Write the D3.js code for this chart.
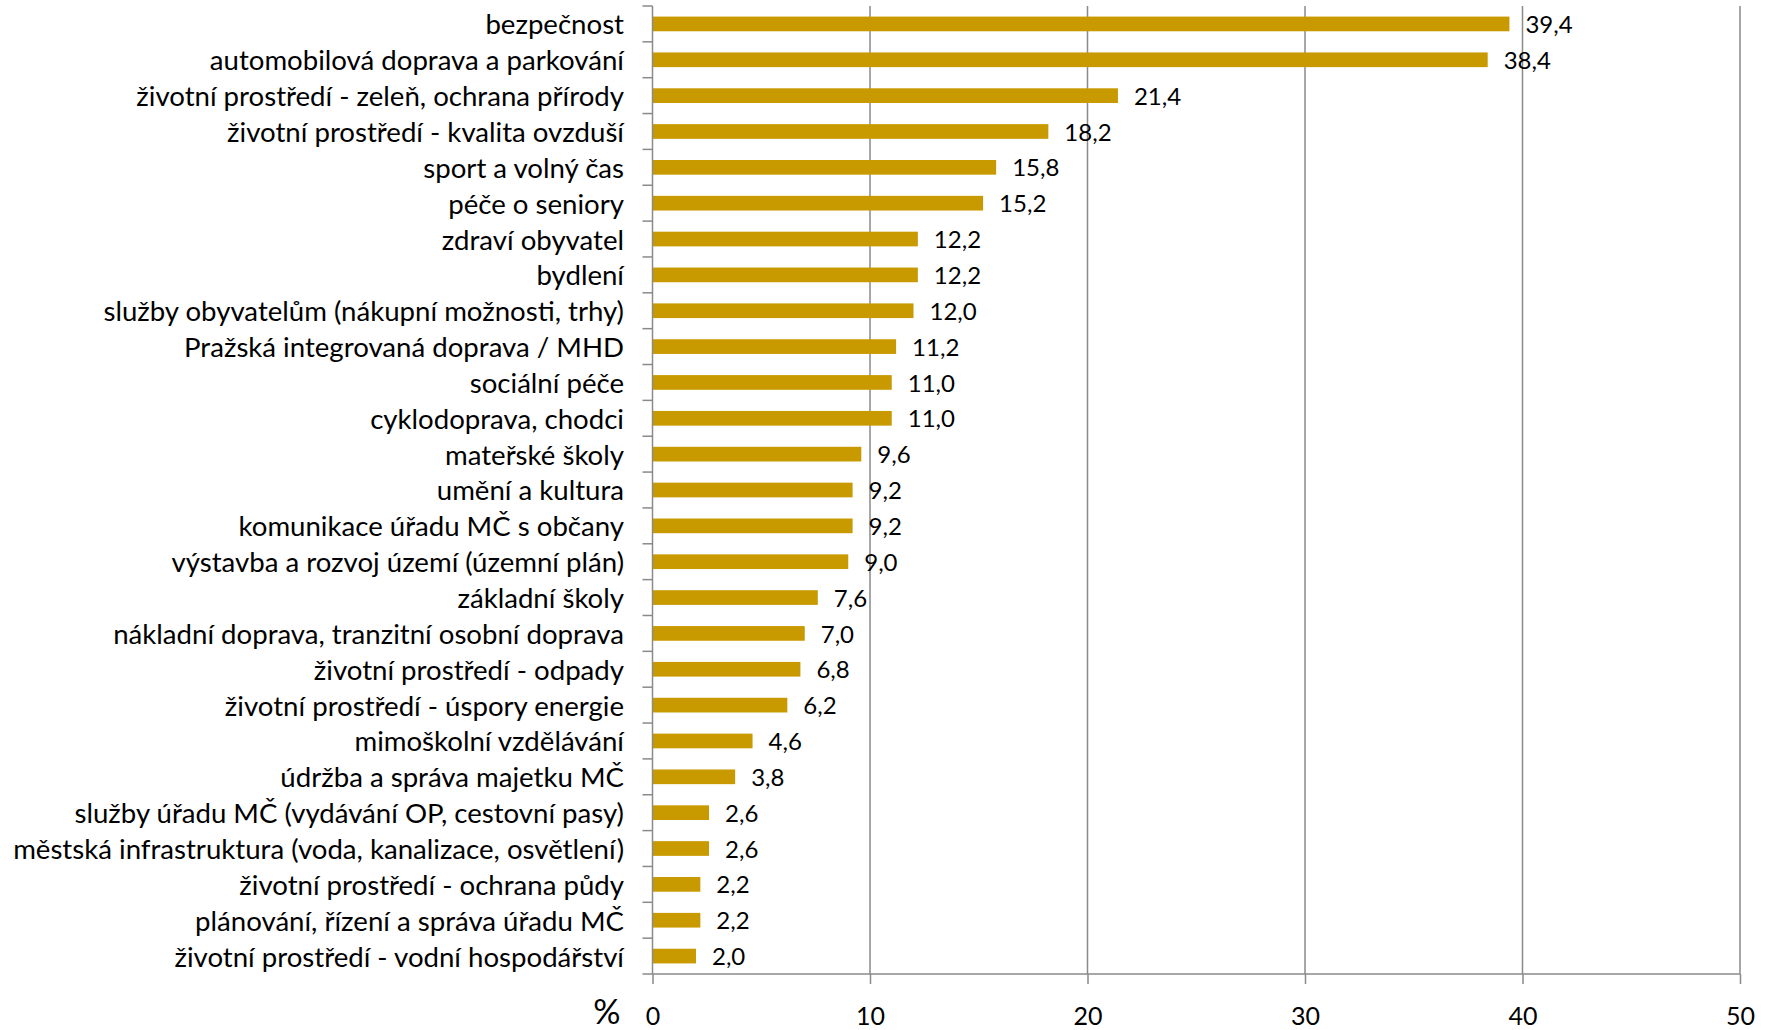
<!DOCTYPE html>
<html>
<head>
<meta charset="utf-8">
<script src="https://cdn.jsdelivr.net/npm/d3@7"></script>
<style>
  body { margin: 0; background: #fff; }
  text { font-family: Lato, "Open Sans", sans-serif; fill: #000; }
</style>
</head>
<body>
<script>
const categories = [
  "bezpečnost",
  "automobilová doprava a parkování",
  "životní prostředí - zeleň, ochrana přírody",
  "životní prostředí - kvalita ovzduší",
  "sport a volný čas",
  "péče o seniory",
  "zdraví obyvatel",
  "bydlení",
  "služby obyvatelům (nákupní možnosti, trhy)",
  "Pražská integrovaná doprava / MHD",
  "sociální péče",
  "cyklodoprava, chodci",
  "mateřské školy",
  "umění a kultura",
  "komunikace úřadu MČ s občany",
  "výstavba a rozvoj území (územní plán)",
  "základní školy",
  "nákladní doprava, tranzitní osobní doprava",
  "životní prostředí - odpady",
  "životní prostředí - úspory energie",
  "mimoškolní vzdělávání",
  "údržba a správa majetku MČ",
  "služby úřadu MČ (vydávání OP, cestovní pasy)",
  "městská infrastruktura (voda, kanalizace, osvětlení)",
  "životní prostředí - ochrana půdy",
  "plánování, řízení a správa úřadu MČ",
  "životní prostředí - vodní hospodářství"
];
const values = [39.4, 38.4, 21.4, 18.2, 15.8, 15.2, 12.2, 12.2, 12.0, 11.2, 11.0, 11.0,
  9.6, 9.2, 9.2, 9.0, 7.6, 7.0, 6.8, 6.2, 4.6, 3.8, 2.6, 2.6, 2.2, 2.2, 2.0];
const xTicks = [0, 10, 20, 30, 40, 50];

const width = 1769, height = 1030;
const x0 = 652.5, x1 = 1740; // plot left/right
const yTop = 6, yBottom = 974;
const barColor = "#C99A00";
const gridColor = "#8a8a8a";

const svg = d3.select("body").append("svg")
  .attr("width", width)
  .attr("height", height);

const xScale = d3.scaleLinear().domain([0, 50]).range([x0, x1]);
const yScale = d3.scaleBand().domain(categories).range([yTop, yBottom]).paddingInner(0.59).paddingOuter(0.295);
const yBand = d3.scaleBand().domain(categories).range([yTop, yBottom]); // for tick marks at band edges

// vertical gridlines
svg.append("g").selectAll("line")
  .data(xTicks.slice(1))
  .enter().append("line")
  .attr("x1", d => xScale(d)).attr("x2", d => xScale(d))
  .attr("y1", yTop).attr("y2", yBottom)
  .attr("stroke", gridColor).attr("stroke-width", 1.5);

// bars
svg.append("g").selectAll("rect")
  .data(values)
  .enter().append("rect")
  .attr("x", xScale(0))
  .attr("y", (d, i) => yScale(categories[i]))
  .attr("width", d => xScale(d) - xScale(0))
  .attr("height", yScale.bandwidth())
  .attr("fill", barColor);

// value labels
svg.append("g").selectAll("text")
  .data(values)
  .enter().append("text")
  .attr("x", d => xScale(d) + 16)
  .attr("y", (d, i) => yScale(categories[i]) + yScale.bandwidth() / 2)
  .attr("dy", "0.38em")
  .attr("font-size", 24)
  .text(d => d.toFixed(1).replace(".", ","));

// x axis
const xAxis = d3.axisBottom(xScale).tickValues(xTicks).tickSize(10).tickPadding(23);
const gx = svg.append("g")
  .attr("transform", "translate(0," + yBottom + ")")
  .call(xAxis);
gx.select(".domain").attr("stroke", gridColor).attr("stroke-width", 1.5)
  .attr("d", "M" + x0 + ",0H" + x1);
gx.selectAll(".tick line").attr("stroke", gridColor).attr("stroke-width", 1.5);
gx.selectAll(".tick text").attr("font-size", 25).attr("font-family", "Lato, sans-serif");

// y axis: category labels + tick marks at band boundaries
const gy = svg.append("g");
gy.append("line")
  .attr("x1", x0).attr("x2", x0).attr("y1", yTop).attr("y2", yBottom)
  .attr("stroke", gridColor).attr("stroke-width", 1.5);
gy.selectAll("line.tk")
  .data(categories.concat([null]))
  .enter().append("line")
  .attr("class", "tk")
  .attr("x1", x0 - 10).attr("x2", x0)
  .attr("y1", (d, i) => d ? yBand(d) : yBottom)
  .attr("y2", (d, i) => d ? yBand(d) : yBottom)
  .attr("stroke", gridColor).attr("stroke-width", 1.5);
gy.selectAll("text")
  .data(categories)
  .enter().append("text")
  .attr("x", 624)
  .attr("y", d => yScale(d) + yScale.bandwidth() / 2)
  .attr("dy", "0.38em")
  .attr("text-anchor", "end")
  .attr("font-size", 27.6)
  .text(d => d);

// % unit label
svg.append("text")
  .attr("x", 607).attr("y", 1012)
  .attr("dy", "0.35em")
  .attr("text-anchor", "middle")
  .attr("font-size", 34)
  .text("%");
</script>
</body>
</html>
